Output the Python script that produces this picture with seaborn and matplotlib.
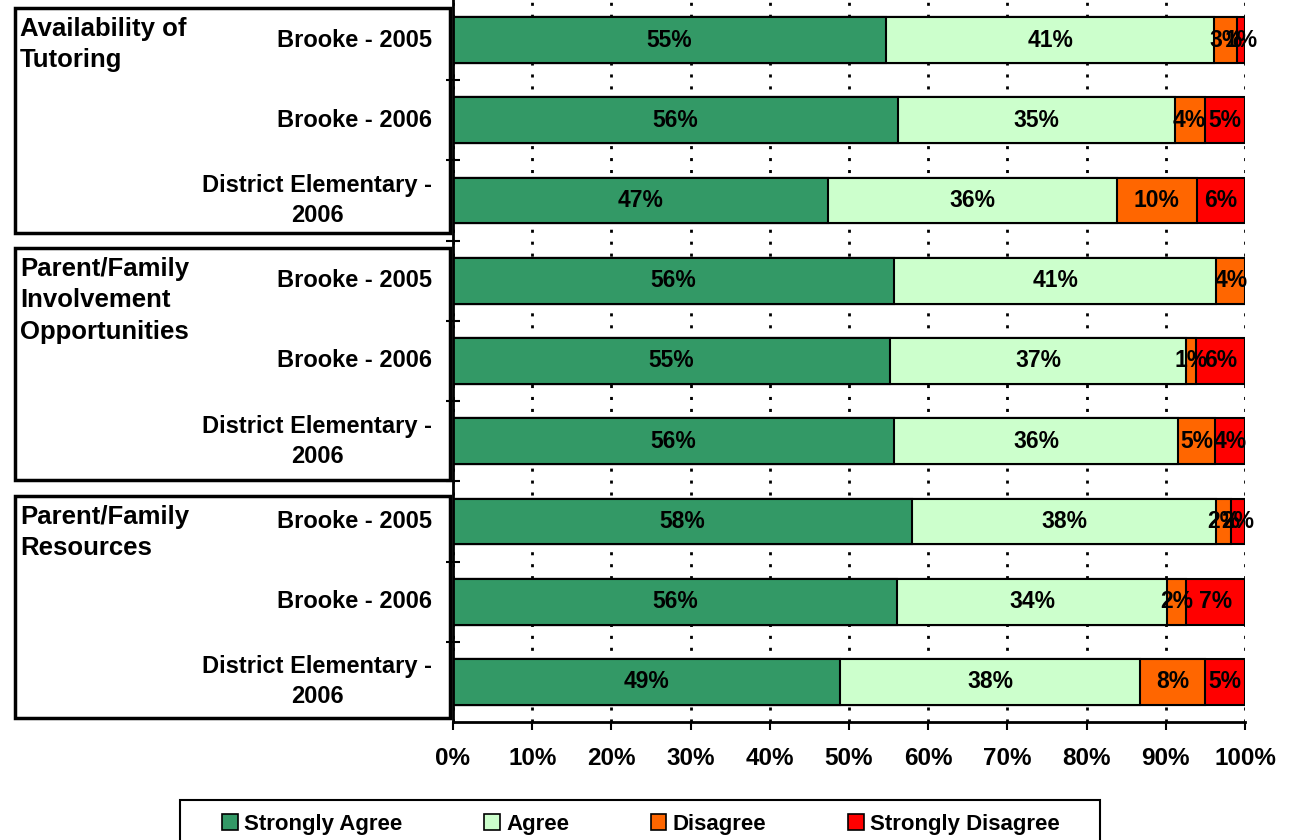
import numpy as np
import pandas as pd
import seaborn as sns
import matplotlib.pyplot as plt
import matplotlib.transforms as mtransforms
from matplotlib.patches import Rectangle, Patch

## data ##

groups = ['Availability of\nTutoring',
          'Parent/Family\nInvolvement\nOpportunities',
          'Parent/Family\nResources']
rows = ['Brooke - 2005', 'Brooke - 2006', 'District Elementary -\n2006'] * 3
responses = ['Strongly Agree', 'Agree', 'Disagree', 'Strongly Disagree']
colors = ['#339966', '#CCFFCC', '#FF6600', '#FF0000']

strongly_agree = [54.7, 56.2, 47.4, 55.7, 55.2, 55.7, 58.0, 56.0, 48.9]
agree = [41.4, 34.9, 36.4, 40.7, 37.4, 35.9, 38.4, 34.2, 37.9]
disagree = [2.9, 3.8, 10.1, 3.6, 1.2, 4.6, 1.8, 2.4, 8.1]
strongly_disagree = [1.0, 5.1, 6.1, 0.0, 6.2, 3.8, 1.8, 7.4, 5.1]

# vertical extent of each group box (in row units)
box_spans = [(-0.4, 2.4), (2.59, 5.48), (5.68, 8.45)]

## plot ##

sns.set_theme(style='white')
plt.rcParams['font.family'] = ['Liberation Sans', 'DejaVu Sans']
plt.rcParams['font.weight'] = 'bold'
for k in ['text.color', 'axes.labelcolor', 'xtick.color', 'ytick.color']:
    plt.rcParams[k] = 'black'

row_ids = [f'r{i}' for i in range(len(rows))]
df = pd.DataFrame({'row': row_ids,
                   'Strongly Agree': strongly_agree,
                   'Agree': agree,
                   'Disagree': disagree,
                   'Strongly Disagree': strongly_disagree})
cum = df[responses].cumsum(axis=1)

fig = plt.figure(figsize=(12.89, 8.4), dpi=100)
ax = fig.add_axes([453 / 1289, 1 - 722 / 840, (1245 - 453) / 1289, 722 / 840])

# stacked bars: draw cumulative totals from the back
for i in reversed(range(len(responses))):
    sns.barplot(x=cum[responses[i]], y=df['row'], order=row_ids, orient='h',
                color=colors[i], saturation=1, width=0.57, errorbar=None,
                edgecolor='black', linewidth=1.5, ax=ax)

# segment labels
for j in range(len(df)):
    left = 0
    for r in responses:
        v = df.loc[j, r]
        if v > 0:
            ax.text(left + v / 2, j, f'{v:.0f}%', ha='center', va='center',
                    fontsize=16.5, fontweight='bold', color='black')
        left += v

ax.set_xlim(0, 100)
ax.set_ylim(len(rows) - 0.5, -0.5)
ax.set_xticks(np.arange(0, 101, 10))
ax.set_xticklabels([f'{t}%' for t in range(0, 101, 10)], fontsize=17.5, fontweight='bold')
ax.set_yticks(range(len(rows)))
ax.set_yticklabels(rows, fontsize=17, fontweight='bold')
for lab in ax.get_yticklabels():
    lab.set_multialignment('center')
    lab.set_linespacing(1.4)
    lab.set_verticalalignment('center')
ax.set_yticks(np.arange(0.5, len(rows) - 1, 1), minor=True)
ax.set_xlabel('')
ax.set_ylabel('')

ax.tick_params(axis='y', which='major', length=0, pad=15)
ax.tick_params(axis='y', which='minor', direction='inout', length=10, width=1.5, color='black', left=True)
ax.tick_params(axis='x', which='major', direction='out', length=6, width=1.5, color='black',
               bottom=True, pad=12)

ax.xaxis.grid(True, color='black', linestyle=(0, (1.1, 3.2)), linewidth=2)
ax.yaxis.grid(False)
ax.set_axisbelow(True)

sns.despine(ax=ax, top=True, right=True)
for s in ['left', 'bottom']:
    ax.spines[s].set_color('black')
    ax.spines[s].set_linewidth(2)

# group boxes on the left
trans = mtransforms.blended_transform_factory(fig.transFigure, ax.transData)
for name, (top, bottom) in zip(groups, box_spans):
    rect = Rectangle((15 / 1289, top), (450 - 15) / 1289, bottom - top,
                     transform=trans, fill=False, edgecolor='black',
                     linewidth=2.5, clip_on=False)
    fig.add_artist(rect)
    fig.text(20 / 1289, top + 0.11, name, transform=trans, ha='left', va='top',
             fontsize=18.5, fontweight='bold', linespacing=1.4)

# legend: frame drawn separately so the entries keep their inner margins
fig.add_artist(Rectangle((180 / 1289, -0.05), 920 / 1289, 0.05 + 40 / 840,
                         transform=fig.transFigure, fill=False,
                         edgecolor='black', linewidth=1.5, clip_on=False))
handles = [Patch(facecolor=c, edgecolor='black', linewidth=1.2, label=r)
           for c, r in zip(colors, responses)]
leg = fig.legend(handles=handles, loc='upper left', ncol=4, mode='expand',
                 bbox_to_anchor=(222 / 1289, -0.2, 838 / 1289, 0.2 + 26 / 840),
                 borderaxespad=0, borderpad=0, frameon=False,
                 handlelength=0.7, handleheight=0.7,
                 handletextpad=0.3, prop={'size': 16, 'weight': 'bold'})

plt.savefig('out.png', dpi=100)
